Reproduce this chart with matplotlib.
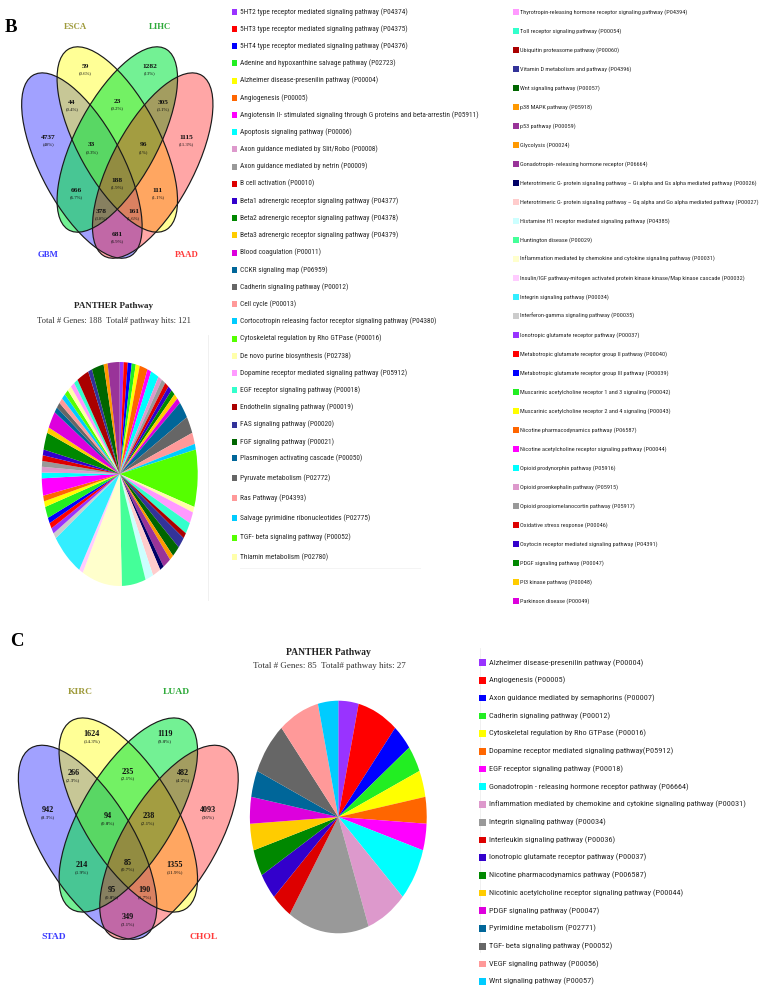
import matplotlib
matplotlib.use("Agg")
import matplotlib.pyplot as plt
from matplotlib.patches import Ellipse, Rectangle
from matplotlib.transforms import Affine2D
from matplotlib import font_manager

# ---------------------------------------------------------------- data
venn_b_sets = ["GBM", "ESCA", "LIHC", "PAAD"]
venn_b_counts = [59, 1282, 44, 23, 305, 4737, 33, 96, 1115, 666, 188, 111, 378, 161, 681]
venn_b_pcts = ["0.6%", "13%", "0.4%", "0.2%", "3.1%", "48%", "0.3%", "1%", "11.3%",
               "6.7%", "1.9%", "1.1%", "3.8%", "1.6%", "6.9%"]

venn_c_sets = ["STAD", "KIRC", "LUAD", "CHOL"]
venn_c_counts = [1624, 1119, 266, 235, 482, 942, 94, 238, 4093, 214, 85, 1355, 95, 190, 349]
venn_c_pcts = ["14.3%", "9.8%", "2.3%", "2.1%", "4.2%", "8.3%", "0.8%", "2.1%", "36%",
               "1.9%", "0.7%", "11.9%", "0.8%", "1.7%", "3.1%"]

pathways_b = [
    "5HT2 type receptor mediated signaling pathway (P04374)",
    "5HT3 type receptor mediated signaling pathway (P04375)",
    "5HT4 type receptor mediated signaling pathway (P04376)",
    "Adenine and hypoxanthine salvage pathway (P02723)",
    "Alzheimer disease-presenilin pathway (P00004)",
    "Angiogenesis (P00005)",
    "Angiotensin II- stimulated signaling through G proteins and beta-arrestin (P05911)",
    "Apoptosis signaling pathway (P00006)",
    "Axon guidance mediated by Slit/Robo (P00008)",
    "Axon guidance mediated by netrin (P00009)",
    "B cell activation (P00010)",
    "Beta1 adrenergic receptor signaling pathway (P04377)",
    "Beta2 adrenergic receptor signaling pathway (P04378)",
    "Beta3 adrenergic receptor signaling pathway (P04379)",
    "Blood coagulation (P00011)",
    "CCKR signaling map (P06959)",
    "Cadherin signaling pathway (P00012)",
    "Cell cycle (P00013)",
    "Cortocotropin releasing factor receptor signaling pathway (P04380)",
    "Cytoskeletal regulation by Rho GTPase (P00016)",
    "De novo purine biosynthesis (P02738)",
    "Dopamine receptor mediated signaling pathway (P05912)",
    "EGF receptor signaling pathway (P00018)",
    "Endothelin signaling pathway (P00019)",
    "FAS signaling pathway (P00020)",
    "FGF signaling pathway (P00021)",
    "Glycolysis (P00024)",
    "Gonadotropin- releasing hormone receptor (P06664)",
    "Heterotrimeric G- protein signaling pathway \u2013 Gi alpha and Gs alpha mediated pathway (P00026)",
    "Heterotrimeric G- protein signaling pathway \u2013 Gq alpha and Go alpha mediated pathway (P00027)",
    "Histamine H1 receptor mediated signaling pathway (P04385)",
    "Huntington disease (P00029)",
    "Inflammation mediated by chemokine and cytokine signaling pathway (P00031)",
    "Insulin/IGF pathway-mitogen activated protein kinase kinase/Map kinase cascade (P00032)",
    "Integrin signaling pathway (P00034)",
    "Interferon-gamma signaling pathway (P00035)",
    "Ionotropic glutamate receptor pathway (P00037)",
    "Metabotropic glutamate receptor group II pathway (P00040)",
    "Metabotropic glutamate receptor group III pathway (P00039)",
    "Muscarinic acetylcholine receptor 1 and 3 signaling (P00042)",
    "Muscarinic acetylcholine receptor 2 and 4 signaling (P00043)",
    "Nicotine pharmacodynamics pathway (P06587)",
    "Nicotine acetylcholine receptor signaling pathway (P00044)",
    "Opioid prodynorphin pathway (P05916)",
    "Opioid proenkephalin pathway (P05915)",
    "Opioid proopiomelanocortin pathway (P05917)",
    "Oxidative stress response (P00046)",
    "Oxytocin receptor mediated signaling pathway (P04391)",
    "PDGF signaling pathway (P00047)",
    "PI3 kinase pathway (P00048)",
    "Parkinson disease (P00049)",
    "Plasminogen activating cascade (P00050)",
    "Pyruvate metabolism (P02772)",
    "Ras Pathway (P04393)",
    "Salvage pyrimidine ribonucleotides (P02775)",
    "TGF- beta signaling pathway (P00052)",
    "Thiamin metabolism (P02780)",
    "Thyrotropin-releasing hormone receptor signaling pathway (P04394)",
    "Toll receptor signaling pathway (P00054)",
    "Ubiquitin proteasome pathway (P00060)",
    "Vitamin D metabolism and pathway (P04396)",
    "Wnt signaling pathway (P00057)",
    "p38 MAPK pathway (P05918)",
    "p53 pathway (P00059)",
]
hits_b = [1, 1, 1, 1, 1, 2, 1, 2, 1, 1, 1, 1, 1, 1, 1, 3, 3, 2, 1, 10,
          1, 2, 2, 1, 2, 2, 1, 2, 1, 2, 2, 6, 10, 1, 8, 1, 1, 1, 1, 2,
          1, 1, 3, 1, 1, 1, 1, 1, 3, 1, 3, 1, 1, 1, 1, 1, 1, 1, 1, 3,
          1, 3, 1, 3]
legend_b_col1 = list(range(0, 26)) + list(range(51, 57))
legend_b_col2 = list(range(57, 64)) + list(range(26, 51))

pathways_c = [
    "Alzheimer disease-presenilin pathway (P00004)",
    "Angiogenesis (P00005)",
    "Axon guidance mediated by semaphorins (P00007)",
    "Cadherin signaling pathway (P00012)",
    "Cytoskeletal regulation by Rho GTPase (P00016)",
    "Dopamine receptor mediated signaling pathway(P05912)",
    "EGF receptor signaling pathway (P00018)",
    "Gonadotropin - releasing hormone receptor pathway (P06664)",
    "Inflammation mediated by chemokine and cytokine signaling pathway (P00031)",
    "Integrin signaling pathway (P00034)",
    "Interleukin signaling pathway (P00036)",
    "Ionotropic glutamate receptor pathway (P00037)",
    "Nicotine pharmacodynamics pathway (P006587)",
    "Nicotinic acetylcholine receptor signaling pathway (P00044)",
    "PDGF signaling pathway (P00047)",
    "Pyrimidine metabolism (P02771)",
    "TGF- beta signaling pathway (P00052)",
    "VEGF signaling pathway (P00056)",
    "Wnt signaling pathway (P00057)",
]
hits_c = [1, 2, 1, 1, 1, 1, 1, 2, 2, 4, 1, 1, 1, 1, 1, 1, 2, 2, 1]

title_pie = "PANTHER Pathway"
subtitle_b = "Total # Genes: 188  Total# pathway hits: 121"
subtitle_c = "Total # Genes: 85  Total# pathway hits: 27"

# ---------------------------------------------------------------- styles
palette = ["#9933FF", "#FF0000", "#0000FF", "#22EE22", "#FFFF00", "#FF6600", "#FF00FF",
           "#00FFFF", "#DD99CC", "#999999", "#DD0000", "#3300CC", "#008800", "#FFCC00",
           "#DD00DD", "#006699", "#666666", "#FF9999", "#00CCFF", "#55FF00", "#FFFFAA",
           "#FF99FF", "#33FFCC", "#AA0000", "#333399", "#006600", "#FF9900", "#993399",
           "#000066", "#FFCCCC", "#CCFFFF", "#44FF99", "#FFFFCC", "#FFCCFF", "#33EEFF",
           "#CCCCCC"]
venn_fill = ["#0000FF", "#FFFF00", "#00E63C", "#FF0000"]
venn_alpha = [0.37, 0.41, 0.55, 0.35]
venn_label_col = ["#3A3AFF", "#9E9A3A", "#2EAA3A", "#FF3A3A"]

W, H = 762, 993
fig = plt.figure(figsize=(W / 100, H / 100), dpi=100)
ax = fig.add_axes([0, 0, 1, 1])
ax.set_xlim(0, W)
ax.set_ylim(H, 0)
ax.axis("off")
renderer = fig.canvas.get_renderer()

ttf = font_manager.fontManager.ttflist
names = {f.name for f in ttf}
SANS = "Liberation Sans"
for cand in ("Liberation Sans Narrow", "Roboto Condensed", "Lato", "Roboto"):
    if cand in names:
        SANS = cand
        break
SERIF = "Liberation Serif"


def fit_size(text, target_w, **kw):
    t = ax.text(0, 0, text, fontsize=10, **kw)
    w = t.get_window_extent(renderer).width
    t.remove()
    return 10.0 * target_w / w


# ---------------------------------------------------------------- venn
ell_geom = [((-40.7, 27.3), 58.8), ((0.0, 0.0), 58.8), ((0.0, 0.0), 121.2), ((40.7, 27.3), 121.2)]
ELL_W, ELL_H = 220, 92


def draw_venn(cx, cy, sx, sy, counts, pcts, pos, sets, label_pos, fs_num, fs_pct, fs_lab):
    tr = Affine2D().scale(sx, sy).translate(cx, cy) + ax.transData
    for (c, ang), col, al in zip(ell_geom, venn_fill, venn_alpha):
        ax.add_patch(Ellipse(c, ELL_W, ELL_H, angle=ang, facecolor=col, alpha=al,
                             edgecolor="none", transform=tr, zorder=2))
    for c, ang in ell_geom:
        ax.add_patch(Ellipse(c, ELL_W, ELL_H, angle=ang, facecolor="none",
                             edgecolor="#1a1a1a", lw=0.85, transform=tr, zorder=3))
    for n, p, (x, y) in zip(counts, pcts, pos):
        ax.text(x, y, str(n), ha="center", va="center", fontsize=fs_num, family=SERIF,
                fontweight="bold", color="#111111", zorder=4)
        ax.text(x, y + 6.6, "(" + p + ")", ha="center", va="center", fontsize=fs_pct,
                family=SERIF, color="#111111", zorder=4)
    for s, (x, y), col in zip(sets, label_pos, venn_label_col):
        ax.text(x, y, s, ha="center", va="center", fontsize=fs_lab, family=SERIF,
                fontweight="bold", color=col, zorder=4)


venn_b_xy = [(85, 66.7), (149.5, 66.7), (71.7, 102.7), (117.3, 101.7), (163, 102.7),
             (48.3, 137.3), (91.7, 145), (143, 145), (186.3, 137.3), (76.7, 190),
             (117.3, 180.7), (157.9, 190), (101, 211.7), (133.6, 211.7), (117.3, 234)]
venn_b_lab = [(48.3, 255), (75, 27), (159.6, 27), (186.3, 255)]
draw_venn(117.3, 139.5, 0.87, 0.955, venn_b_counts, venn_b_pcts, venn_b_xy,
          venn_b_sets, venn_b_lab, 5.3, 3.4, 6.3)

venn_c_xy = [(91.7, 734), (165, 734), (73.3, 773.3), (128.3, 771.7), (183.3, 773.3),
             (48.3, 810), (108.3, 816), (148.3, 816), (208.3, 810), (81.7, 865),
             (128.3, 862.7), (174.9, 865), (111.7, 890), (144.9, 890), (128.3, 917.3)]
venn_c_lab = [(53.3, 936.7), (80, 691.7), (176.6, 691.7), (203.3, 936.7)]
draw_venn(128.3, 815, 1.0, 1.0, venn_c_counts, venn_c_pcts, venn_c_xy,
          venn_c_sets, venn_c_lab, 5.9, 3.7, 6.8)

ax.text(11, 27, "B", ha="center", va="center", fontsize=13.5, family=SERIF, fontweight="bold")
ax.text(16.5, 642, "C", ha="center", va="center", fontsize=13.5, family=SERIF, fontweight="bold")


# ---------------------------------------------------------------- pies
def pie_axes(cx, cy, rx, ry):
    return fig.add_axes([(cx - rx) / W, 1 - (cy + ry) / H, 2 * rx / W, 2 * ry / H])


cols_b = [palette[i % len(palette)] for i in range(len(hits_b))]
axb = pie_axes(119.7, 474, 78, 112)
axb.pie(hits_b, colors=cols_b, startangle=90, counterclock=False, radius=1,
        wedgeprops=dict(linewidth=0))
axb.set_xlim(-1, 1)
axb.set_ylim(-1, 1)
axb.set_aspect("auto")
axb.axis("off")

cols_c = [palette[i % len(palette)] for i in range(len(hits_c))]
axc = pie_axes(338.3, 817, 88.4, 116.3)
axc.pie(hits_c, colors=cols_c, startangle=90, counterclock=False, radius=1,
        wedgeprops=dict(linewidth=0))
axc.set_xlim(-1, 1)
axc.set_ylim(-1, 1)
axc.set_aspect("auto")
axc.axis("off")

tkw = dict(family=SERIF, fontweight="bold")
skw = dict(family=SERIF)
ax.text(113.5, 306, title_pie, ha="center", va="center", color="#222222",
        fontsize=fit_size(title_pie, 79, **tkw), **tkw)
ax.text(113.5, 321, subtitle_b, ha="center", va="center", color="#333333",
        fontsize=fit_size(subtitle_b, 154, **skw), **skw)
ax.text(328.3, 652.7, title_pie, ha="center", va="center", color="#222222",
        fontsize=fit_size(title_pie, 85, **tkw), **tkw)
ax.text(329, 666, subtitle_c, ha="center", va="center", color="#333333",
        fontsize=fit_size(subtitle_c, 152, **skw), **skw)

# ---------------------------------------------------------------- legends
lkw = dict(family=SANS)


def legend_rows(idx_list, names_, cols, x_sq, x_txt, ys, sq_w, sq_h, fs):
    for i, y in zip(idx_list, ys):
        ax.add_patch(Rectangle((x_sq, y - sq_h / 2), sq_w, sq_h, facecolor=cols[i],
                               edgecolor="none", zorder=3))
        ax.text(x_txt, y, names_[i], ha="left", va="center", fontsize=fs,
                color="#2a2a2a", zorder=3, **lkw)


fs1 = fit_size(pathways_b[6], 236, **lkw)
fs2 = fit_size(pathways_b[28], 238, **lkw)
fs3 = fit_size(pathways_c[8], 258, **lkw)

ys1 = [11.7 + 17.2 * k for k in range(26)] + [458.3 + 19.8 * k for k in range(6)]
legend_rows(legend_b_col1, pathways_b, cols_b, 232.3, 240.5, ys1, 5.0, 6.0, fs1)
ys2 = [11.7 + 19.0 * k for k in range(32)]
legend_rows(legend_b_col2, pathways_b, cols_b, 513.3, 520.5, ys2, 5.5, 6.0, fs2)
ys3 = [662.7 + 17.72 * k for k in range(19)]
legend_rows(list(range(len(pathways_c))), pathways_c, cols_c, 479.3, 489.3, ys3, 6.7, 6.7, fs3)

# faint frame lines of the original pasted panels
ax.plot([208, 208], [335, 600], color="#EEEEEE", lw=0.6, zorder=1)
ax.plot([480, 480], [648, 952], color="#EEEEEE", lw=0.6, zorder=1)
ax.plot([240, 420], [568, 568], color="#F2F2F2", lw=0.6, zorder=1)

fig.savefig("out.png", dpi=100)
